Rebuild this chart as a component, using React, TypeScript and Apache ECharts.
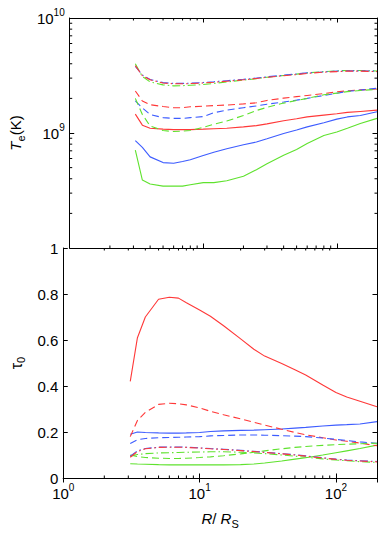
import React, { useEffect, useRef } from 'react';
import * as echarts from 'echarts';

// Radius in Schwarzschild radii
const R = [3.1, 3.5, 4, 5, 6, 7, 8, 10, 12, 15, 20, 25, 30, 40, 50, 60, 80, 100, 120, 150, 200];

// Electron temperature, in units of 1e9 K
const TE_UNIT = 1e9;
const teRedSolid = [1.46, 1.17, 1.1, 1.08, 1.07, 1.07, 1.07, 1.08, 1.09, 1.1, 1.13, 1.16, 1.2, 1.28, 1.33, 1.38, 1.43, 1.47, 1.51, 1.54, 1.58];
const teBlueSolid = [0.86, 0.75, 0.62, 0.553, 0.545, 0.565, 0.585, 0.637, 0.68, 0.73, 0.79, 0.835, 0.89, 0.99, 1.06, 1.13, 1.23, 1.32, 1.38, 1.42, 1.53];
const teGreenSolid = [0.71, 0.39, 0.36, 0.345, 0.345, 0.345, 0.355, 0.37, 0.37, 0.385, 0.42, 0.48, 0.54, 0.64, 0.72, 0.81, 0.95, 1.02, 1.1, 1.21, 1.34];
const teRedDashed = [2.32, 1.9, 1.76, 1.7, 1.66, 1.66, 1.69, 1.71, 1.73, 1.75, 1.79, 1.83, 1.92, 2.01, 2.07, 2.12, 2.2, 2.28, 2.33, 2.37, 2.41];
const teBlueDashed = [1.9, 1.65, 1.45, 1.36, 1.34, 1.34, 1.36, 1.39, 1.5, 1.58, 1.66, 1.72, 1.78, 1.86, 1.93, 2.0, 2.12, 2.22, 2.3, 2.36, 2.45];
const teGreenDashed = [2.0, 1.45, 1.15, 1.05, 1.03, 1.04, 1.05, 1.12, 1.19, 1.27, 1.42, 1.57, 1.67, 1.82, 1.92, 2.0, 2.15, 2.22, 2.29, 2.34, 2.4];
const teRedDashDot = [3.85, 3.15, 2.9, 2.72, 2.68, 2.68, 2.69, 2.72, 2.76, 2.82, 2.9, 2.98, 3.05, 3.15, 3.22, 3.3, 3.38, 3.42, 3.45, 3.45, 3.42];
const teBlueDashDot = [3.8, 3.2, 2.92, 2.74, 2.7, 2.7, 2.71, 2.75, 2.79, 2.85, 2.93, 3.0, 3.08, 3.18, 3.26, 3.33, 3.4, 3.45, 3.47, 3.47, 3.45];
const teGreenDashDot = [4.0, 3.1, 2.78, 2.62, 2.57, 2.58, 2.6, 2.64, 2.7, 2.78, 2.88, 2.97, 3.05, 3.16, 3.25, 3.33, 3.42, 3.47, 3.5, 3.5, 3.46];

// Optical depth tau_0
const tauRedSolid = [0.42, 0.61, 0.7, 0.777, 0.786, 0.782, 0.762, 0.73, 0.703, 0.662, 0.605, 0.56, 0.53, 0.498, 0.471, 0.448, 0.404, 0.372, 0.352, 0.334, 0.31];
const tauBlueSolid = [0.19, 0.2, 0.198, 0.196, 0.195, 0.195, 0.196, 0.198, 0.202, 0.205, 0.207, 0.208, 0.21, 0.213, 0.217, 0.22, 0.226, 0.23, 0.232, 0.235, 0.245];
const tauGreenSolid = [0.062, 0.061, 0.06, 0.058, 0.057, 0.057, 0.057, 0.057, 0.057, 0.057, 0.058, 0.061, 0.065, 0.074, 0.082, 0.088, 0.1, 0.11, 0.118, 0.128, 0.143];
const tauRedDashed = [0.18, 0.25, 0.285, 0.32, 0.325, 0.323, 0.318, 0.305, 0.29, 0.275, 0.257, 0.242, 0.23, 0.212, 0.198, 0.188, 0.175, 0.165, 0.16, 0.152, 0.14];
const tauBlueDashed = [0.15, 0.166, 0.172, 0.175, 0.176, 0.177, 0.178, 0.18, 0.183, 0.185, 0.187, 0.187, 0.186, 0.184, 0.182, 0.18, 0.174, 0.168, 0.163, 0.157, 0.151];
const tauGreenDashed = [0.1, 0.093, 0.089, 0.086, 0.085, 0.085, 0.086, 0.089, 0.092, 0.097, 0.105, 0.112, 0.118, 0.127, 0.133, 0.137, 0.142, 0.145, 0.147, 0.149, 0.151];
const tauRedDashDot = [0.09, 0.115, 0.127, 0.133, 0.134, 0.134, 0.133, 0.13, 0.127, 0.124, 0.119, 0.115, 0.111, 0.105, 0.1, 0.095, 0.087, 0.081, 0.077, 0.074, 0.07];
const tauBlueDashDot = [0.095, 0.118, 0.128, 0.134, 0.135, 0.135, 0.134, 0.131, 0.128, 0.125, 0.12, 0.116, 0.112, 0.106, 0.101, 0.096, 0.088, 0.082, 0.078, 0.075, 0.072];
const tauGreenDashDot = [0.095, 0.102, 0.106, 0.109, 0.11, 0.111, 0.112, 0.113, 0.114, 0.114, 0.112, 0.109, 0.106, 0.1, 0.095, 0.09, 0.083, 0.078, 0.075, 0.071, 0.068];

// Tick values
const xMinorTicks = [2, 3, 4, 5, 6, 7, 8, 9, 20, 30, 40, 50, 60, 70, 80, 90];
const teMinorTicks = [2e8, 3e8, 4e8, 5e8, 6e8, 7e8, 8e8, 9e8, 2e9, 3e9, 4e9, 5e9, 6e9, 7e9, 8e9, 9e9];
const tauTicks = [0, 0.2, 0.4, 0.6, 0.8, 1];

const RED = '#ff3838';
const BLUE = '#3d5cff';
const GREEN = '#5fe22e';
const SOLID: any = 'solid';
const DASHED: any = [7, 4];
const DASHDOT: any = [8, 3, 1.5, 3];

const FONT = 'Liberation Sans, Arial, sans-serif';

const richLabel = {
  b: { fontSize: 15, fontFamily: FONT, color: '#000' },
  s: { fontSize: 10, fontFamily: FONT, color: '#000', padding: [0, 0, 12, 0] },
};

function powLabel(v: number, hide: number[]) {
  const e = Math.round(Math.log10(v));
  if (Math.abs(v - Math.pow(10, e)) / Math.pow(10, e) > 1e-6) return '';
  if (hide.includes(e)) return '';
  return `{b|10}{s|${e}}`;
}

function App() {
  const ref = useRef<HTMLDivElement>(null);
  useEffect(() => {
    if (!ref.current) return;
    const chart = echarts.init(ref.current, null, { renderer: 'svg' });

    const lineSeries = (name: string, data: number[], color: string, type: any, grid: number, scale: number) => ({
      name,
      type: 'line',
      xAxisIndex: grid === 0 ? 0 : 2,
      yAxisIndex: grid === 0 ? 0 : 2,
      data: R.map((r, i) => [r, data[i] * scale]),
      showSymbol: false,
      symbol: 'none',
      smooth: false,
      lineStyle: { color, width: 1.1, type },
      silent: true,
    });

    const tickStyle = { stroke: '#000', lineWidth: 1 };
    const xTickSeries = (grid: number, yVal: number) => ({
      type: 'custom',
      xAxisIndex: grid === 0 ? 0 : 2,
      yAxisIndex: grid === 0 ? 0 : 2,
      silent: true,
      clip: false,
      data: xMinorTicks.map((v) => [v, yVal]),
      renderItem: (params: any, api: any) => {
        const cs = params.coordSys;
        const x = api.coord([api.value(0), api.value(1)])[0];
        return {
          type: 'group',
          children: [
            { type: 'line', shape: { x1: x, y1: cs.y + cs.height, x2: x, y2: cs.y + cs.height - 2.5 }, style: tickStyle },
            { type: 'line', shape: { x1: x, y1: cs.y, x2: x, y2: cs.y + 2.5 }, style: tickStyle },
          ],
        };
      },
    });
    const yTickSeries = {
      type: 'custom',
      xAxisIndex: 0,
      yAxisIndex: 0,
      silent: true,
      clip: false,
      data: teMinorTicks.map((v) => [10, v]),
      renderItem: (params: any, api: any) => {
        const cs = params.coordSys;
        const y = api.coord([api.value(0), api.value(1)])[1];
        return {
          type: 'group',
          children: [
            { type: 'line', shape: { x1: cs.x, y1: y, x2: cs.x + 2.5, y2: y }, style: tickStyle },
            { type: 'line', shape: { x1: cs.x + cs.width, y1: y, x2: cs.x + cs.width - 2.5, y2: y }, style: tickStyle },
          ],
        };
      },
    };

    const axisLine = { show: true, lineStyle: { color: '#000', width: 1 } };
    const majorTick = { show: true, inside: true, length: 4.5, lineStyle: { color: '#000', width: 1 } };

    const option: any = {
      animation: false,
      backgroundColor: '#fff',
      grid: [
        { left: 63, top: 18, width: 314, height: 230 },
        { left: 63, top: 248, width: 314, height: 230 },
      ],
      xAxis: [
        { gridIndex: 0, type: 'log', logBase: 10, min: 1, max: 200, position: 'bottom', axisLine, axisTick: majorTick, axisLabel: { show: false }, splitLine: { show: false } },
        { gridIndex: 0, type: 'log', logBase: 10, min: 1, max: 200, position: 'top', axisLine, axisTick: majorTick, axisLabel: { show: false }, splitLine: { show: false } },
        {
          gridIndex: 1, type: 'log', logBase: 10, min: 1, max: 200, position: 'bottom', axisLine, axisTick: majorTick,
          axisLabel: { show: true, margin: 4, showMaxLabel: false, formatter: (v: number) => powLabel(v, []), rich: richLabel },
          splitLine: { show: false },
          name: '{i|R}{n|/ }{i|R}{sub|S}', nameLocation: 'middle', nameGap: 30,
          nameTextStyle: {
            rich: {
              i: { fontSize: 15, fontStyle: 'italic', fontFamily: FONT, color: '#000' },
              n: { fontSize: 15, fontFamily: FONT, color: '#000' },
              sub: { fontSize: 11, fontFamily: FONT, color: '#000', padding: [10, 0, 0, 0] },
            },
          },
        },
        { gridIndex: 1, type: 'log', logBase: 10, min: 1, max: 200, position: 'top', axisLine, axisTick: majorTick, axisLabel: { show: false }, splitLine: { show: false } },
      ],
      yAxis: [
        {
          gridIndex: 0, type: 'log', logBase: 10, min: 1e8, max: 1e10, position: 'left', axisLine, axisTick: majorTick,
          axisLabel: { show: true, margin: 5, formatter: (v: number) => powLabel(v, [8]), rich: richLabel },
          splitLine: { show: false },
          name: '{i|T}{sub|e}{n|(K)}', nameLocation: 'middle', nameGap: 38, nameRotate: 90,
          nameTextStyle: {
            rich: {
              i: { fontSize: 15, fontStyle: 'italic', fontFamily: FONT, color: '#000' },
              n: { fontSize: 15, fontFamily: FONT, color: '#000' },
              sub: { fontSize: 11, fontFamily: FONT, color: '#000', padding: [10, 0, 0, 0] },
            },
          },
        },
        { gridIndex: 0, type: 'log', logBase: 10, min: 1e8, max: 1e10, position: 'right', axisLine, axisTick: majorTick, axisLabel: { show: false }, splitLine: { show: false } },
        {
          gridIndex: 1, type: 'value', min: tauTicks[0], max: tauTicks[tauTicks.length - 1], interval: 0.2, position: 'left', axisLine, axisTick: majorTick,
          axisLabel: { show: true, margin: 5, fontSize: 15, fontFamily: FONT, color: '#000', formatter: (v: number) => String(Math.round(v * 10) / 10) },
          splitLine: { show: false },
          name: '{t|τ}{sub|0}', nameLocation: 'middle', nameGap: 32, nameRotate: 90,
          nameTextStyle: {
            rich: {
              t: { fontSize: 16, fontFamily: FONT, color: '#000' },
              sub: { fontSize: 11, fontFamily: FONT, color: '#000', padding: [10, 0, 0, 0] },
            },
          },
        },
        { gridIndex: 1, type: 'value', min: 0, max: 1, interval: 0.2, position: 'right', axisLine, axisTick: majorTick, axisLabel: { show: false }, splitLine: { show: false } },
      ],
      series: [
        lineSeries('Te red solid', teRedSolid, RED, SOLID, 0, TE_UNIT),
        lineSeries('Te blue solid', teBlueSolid, BLUE, SOLID, 0, TE_UNIT),
        lineSeries('Te green solid', teGreenSolid, GREEN, SOLID, 0, TE_UNIT),
        lineSeries('Te red dashed', teRedDashed, RED, DASHED, 0, TE_UNIT),
        lineSeries('Te blue dashed', teBlueDashed, BLUE, DASHED, 0, TE_UNIT),
        lineSeries('Te green dashed', teGreenDashed, GREEN, DASHED, 0, TE_UNIT),
        lineSeries('Te green dashdot', teGreenDashDot, GREEN, DASHDOT, 0, TE_UNIT),
        lineSeries('Te blue dashdot', teBlueDashDot, BLUE, DASHDOT, 0, TE_UNIT),
        lineSeries('Te red dashdot', teRedDashDot, RED, DASHDOT, 0, TE_UNIT),
        lineSeries('tau red solid', tauRedSolid, RED, SOLID, 1, 1),
        lineSeries('tau blue solid', tauBlueSolid, BLUE, SOLID, 1, 1),
        lineSeries('tau green solid', tauGreenSolid, GREEN, SOLID, 1, 1),
        lineSeries('tau red dashed', tauRedDashed, RED, DASHED, 1, 1),
        lineSeries('tau blue dashed', tauBlueDashed, BLUE, DASHED, 1, 1),
        lineSeries('tau green dashed', tauGreenDashed, GREEN, DASHED, 1, 1),
        lineSeries('tau green dashdot', tauGreenDashDot, GREEN, DASHDOT, 1, 1),
        lineSeries('tau blue dashdot', tauBlueDashDot, BLUE, DASHDOT, 1, 1),
        lineSeries('tau red dashdot', tauRedDashDot, RED, DASHDOT, 1, 1),
        xTickSeries(0, 1e9),
        xTickSeries(1, 0.5),
        yTickSeries,
      ],
    };
    chart.setOption(option);
    return () => chart.dispose();
  }, []);
  return (
    <div
      ref={ref}
      style={{ position: 'fixed', left: 0, top: 0, width: 382, height: 534, background: '#fff' }}
    />
  );
}

export default App;
